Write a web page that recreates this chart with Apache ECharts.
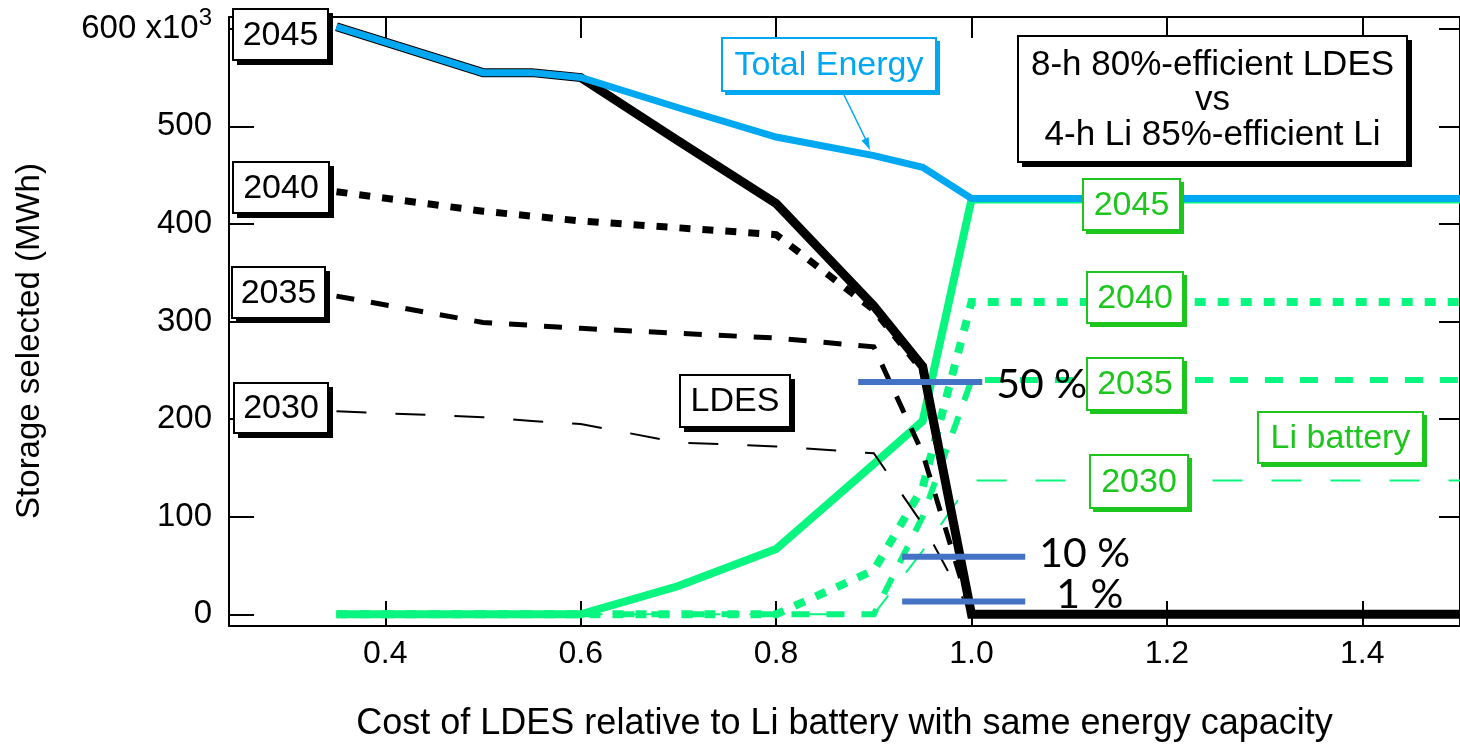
<!DOCTYPE html>
<html>
<head>
<meta charset="utf-8">
<title>LDES vs Li battery storage selected</title>
<script src="https://cdn.jsdelivr.net/npm/echarts@6/dist/echarts.min.js"></script>
<style>
  html, body { margin: 0; padding: 0; background: #fff; }
  #chart { width: 1460px; height: 747px; }
</style>
</head>
<body>
<div id="chart"></div>
<script>
// Relative cost of LDES (x) and storage selected in MWh x10^3 (y)
const costRatio = [0.35, 0.5, 0.55, 0.6, 0.7, 0.8, 0.9, 0.95, 1.0, 1.5];

const totalEnergy = [602, 555, 555, 550, 519, 489, 470, 458, 426, 426];

const ldes2045 = [602, 555, 555, 550, 485, 421, 316, 254, 0, 0];
const ldes2040 = [433, 413, 408, 403, 396, 389, 312, 250, 0, 0];
const ldes2035 = [326, 299, 296, 293, 288, 283, 274, 165, 0, 0];
const ldes2030 = [208, 202, 198, 195, 176, 172, 165, 92, 0, 0];

const li2045 = [0, 0, 0, 0, 29, 67, 154, 198, 425, 425];
const li2040 = [0, 0, 0, 0, 0, 0, 45, 130, 320, 320];
const li2035 = [0, 0, 0, 0, 0, 0, 0, 100, 240, 240];
const li2030 = [0, 0, 0, 0, 0, 0, 0, 65, 137, 137];

// Share-of-LDES reference levels
const shareLabels = ['50 %', '10 %', '1 %'];
const shareMWh = [238, 59, 13];
const shareFrom = [0.884, 0.929, 0.929];
const shareTo = [1.011, 1.055, 1.055];

const xTicks = [0.4, 0.6, 0.8, 1.0, 1.2, 1.4];
const yTicks = [0, 100, 200, 300, 400, 500, 600];

const FONT = '"Liberation Sans", Arial, Helvetica, sans-serif';
const BLACK = '#000000';
const BLUE = '#00A8F2';
const GREEN = '#08F57F';
const GREEN_TEXT = '#1DC61D';
const BAR_BLUE = '#4472C4';

const pairs = (ys) => costRatio.map((x, i) => [x, ys[i]]);

function curve(name, ys, color, width, dash, z) {
  return {
    name: name,
    type: 'line',
    data: pairs(ys),
    symbol: 'none',
    silent: true,
    z: z,
    lineStyle: { color: color, width: width, type: dash, cap: 'butt', join: 'miter' }
  };
}

const DOT = [11, 12];
const DASH = [18, 17];
const LONG = [30, 29];

const series = [
  curve('Li 2030', li2030, GREEN, 2, LONG, 2),
  curve('Li 2035', li2035, GREEN, 6, DASH, 2),
  curve('Li 2040', li2040, GREEN, 8, DOT, 2),
  curve('Li 2045', li2045, GREEN, 8, 'solid', 3),
  curve('LDES 2030', ldes2030, BLACK, 2, LONG, 4),
  curve('LDES 2035', ldes2035, BLACK, 5, DASH, 4),
  curve('LDES 2040', ldes2040, BLACK, 7, DOT, 4),
  curve('LDES 2045', ldes2045, BLACK, 9, 'solid', 5),
  curve('Total Energy', totalEnergy, BLUE, 7, 'solid', 6)
];

const labelShift = [[0, 3], [0, -3], [17, -7]];
shareLabels.forEach((lab, i) => {
  series.push({
    name: lab,
    type: 'line',
    data: [[shareFrom[i], shareMWh[i]], [shareTo[i], shareMWh[i]]],
    symbol: 'none',
    silent: true,
    z: 8,
    lineStyle: { color: BAR_BLUE, width: 6, cap: 'butt' },
    endLabel: {
      show: true,
      formatter: lab,
      distance: 14,
      offset: labelShift[i],
      color: '#000',
      fontFamily: 'Lato, "Open Sans", sans-serif',
      fontSize: 41
    }
  });
});

// Boxed annotation: white box, coloured frame, solid offset shadow block
function tag(x, y, w, h, text, color, shadow, fontSize, lineHeight) {
  return {
    type: 'group',
    x: x, y: y, z: 20,
    children: [
      {
        type: 'rect',
        shape: { x: shadow, y: shadow, width: w + 1, height: h + 1 },
        style: { fill: color },
        z: 20
      },
      {
        type: 'rect',
        shape: { x: 0, y: 0, width: w, height: h },
        style: { fill: '#fff', stroke: color, lineWidth: 2 },
        z: 20
      },
      {
        type: 'text',
        x: w / 2, y: h / 2 + 1,
        style: {
          text: text, fill: color, font: fontSize + 'px ' + FONT,
          align: 'center', verticalAlign: 'middle',
          lineHeight: lineHeight || fontSize
        },
        z: 21
      }
    ]
  };
}

const graphics = [
  tag(233, 9, 95, 51, '2045', BLACK, 4, 34),
  tag(233, 162, 96, 51, '2040', BLACK, 4, 34),
  tag(232, 267, 93, 51, '2035', BLACK, 4, 34),
  tag(234, 383, 94, 50, '2030', BLACK, 4, 34),
  tag(680, 375, 110, 52, 'LDES', BLACK, 4, 34),
  tag(1018, 36, 389, 126, '8-h 80%-efficient LDES\nvs\n4-h Li 85%-efficient Li', BLACK, 4, 35, 35),
  tag(722, 38, 214, 53, 'Total Energy', BLUE, 3, 34),
  tag(1083, 179, 97, 51, '2045', GREEN_TEXT, 3, 34),
  tag(1087, 272, 96, 51, '2040', GREEN_TEXT, 3, 34),
  tag(1087, 358, 96, 52, '2035', GREEN_TEXT, 3, 34),
  tag(1090, 455, 98, 53, '2030', GREEN_TEXT, 3, 34),
  tag(1258, 412, 165, 51, 'Li battery', GREEN_TEXT, 3, 34),
  // pointer from the Total Energy tag to its curve
  {
    type: 'line', z: 19,
    shape: { x1: 844, y1: 95, x2: 866, y2: 140 },
    style: { stroke: BLUE, lineWidth: 1.5 }
  },
  {
    type: 'polygon', z: 19,
    shape: { points: [[870, 150], [868.5, 137], [861.5, 140.5]] },
    style: { fill: BLUE }
  },
  // vertical axis title
  {
    type: 'text',
    x: 30, y: 341, rotation: Math.PI / 2,
    style: {
      text: 'Storage selected (MWh)', fill: '#000',
      font: '33px ' + FONT, align: 'center', verticalAlign: 'middle'
    }
  }
];

const axisLineStyle = { color: '#000', width: 2 };

const option = {
  animation: false,
  backgroundColor: '#fff',
  grid: { left: 229, right: 0, top: 17, bottom: 120 },
  xAxis: [
    {
      type: 'value', min: 0.24, max: 1.5, position: 'bottom',
      axisLine: { onZero: false, lineStyle: axisLineStyle },
      axisTick: { inside: true, length: 25, customValues: xTicks, lineStyle: { color: '#000', width: 2 } },
      axisLabel: {
        customValues: xTicks, formatter: (v) => v.toFixed(1),
        color: '#000', fontFamily: FONT, fontSize: 32, margin: 12
      },
      splitLine: { show: false },
      name: 'Cost of LDES relative to Li battery with same energy capacity',
      nameLocation: 'middle', nameGap: 80,
      nameTextStyle: { color: '#000', fontFamily: FONT, fontSize: 36 }
    },
    {
      type: 'value', min: 0.24, max: 1.5, position: 'top',
      axisLine: { onZero: false, lineStyle: axisLineStyle },
      axisTick: { inside: true, length: 21, customValues: xTicks, lineStyle: { color: '#000', width: 2 } },
      axisLabel: { show: false },
      splitLine: { show: false }
    }
  ],
  yAxis: [
    {
      type: 'value', min: -12, max: 612, position: 'left',
      axisLine: { onZero: false, lineStyle: axisLineStyle },
      axisTick: { inside: true, length: 25, customValues: yTicks, lineStyle: { color: '#000', width: 2 } },
      axisLabel: {
        customValues: yTicks,
        formatter: (v) => (v === 600 ? '600 x10{sup|3}' : String(v)),
        color: '#000', fontFamily: FONT, fontSize: 33, margin: 17,
        rich: {
          sup: { fontFamily: FONT, fontSize: 24, color: '#000', padding: [0, 0, 20, 0] }
        }
      },
      splitLine: { show: false }
    },
    {
      type: 'value', min: -12, max: 612, position: 'right',
      axisLine: { onZero: false, lineStyle: axisLineStyle },
      axisTick: { inside: true, length: 21, customValues: yTicks, lineStyle: { color: '#000', width: 2 } },
      axisLabel: { show: false },
      splitLine: { show: false }
    }
  ],
  series: series,
  graphic: graphics
};

const chart = echarts.init(document.getElementById('chart'), null, { renderer: 'canvas' });
chart.setOption(option);
</script>
</body>
</html>
